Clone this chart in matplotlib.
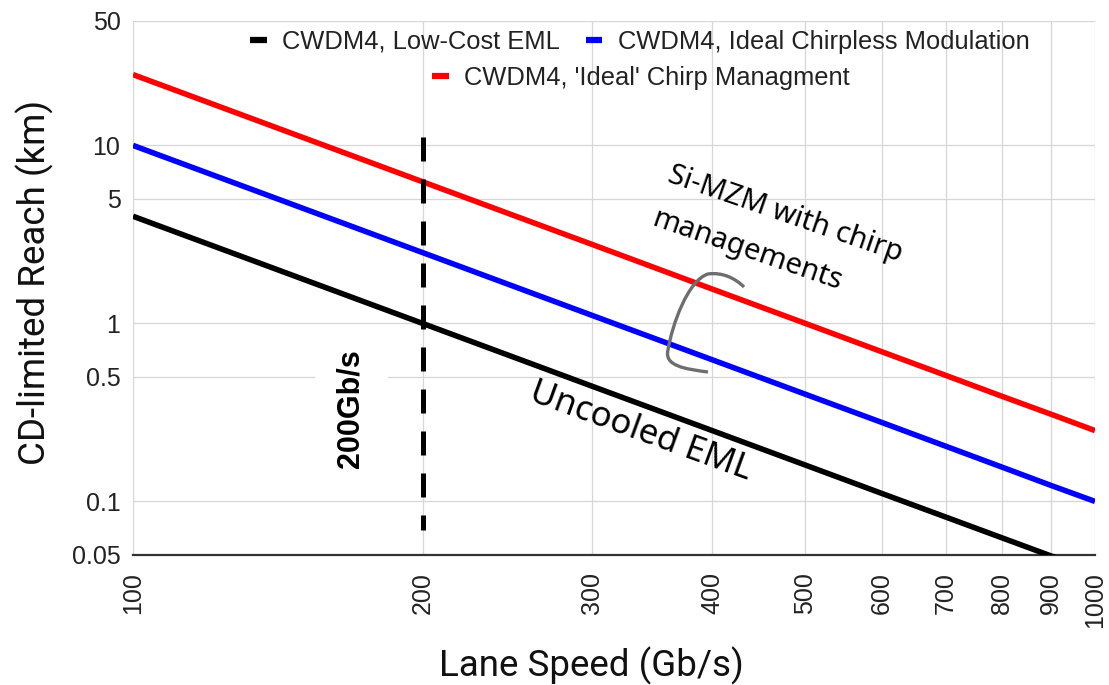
import matplotlib
matplotlib.use("Agg")
import matplotlib.pyplot as plt
from matplotlib.lines import Line2D
from matplotlib.patches import Rectangle, PathPatch
from matplotlib.path import Path
from matplotlib.ticker import FixedLocator, FixedFormatter, NullLocator

# lane speed (Gb/s) and CD-limited reach (km)
lane_speed = [100, 200, 300, 400, 500, 600, 700, 800, 900, 1000]
reach_low_cost_eml = [4.0, 1.0, 0.444, 0.25, 0.16, 0.111, 0.0816, 0.0625, 0.0494, 0.04]
reach_chirpless = [10.0, 2.5, 1.11, 0.625, 0.4, 0.278, 0.204, 0.156, 0.123, 0.1]
reach_chirp_mgmt = [25.0, 6.25, 2.78, 1.56, 1.0, 0.694, 0.51, 0.39, 0.309, 0.25]

# the 200Gb/s marker line
marker_speed = [200, 200]
marker_reach = [11.1, 0.069]

x_ticks = [100, 200, 300, 400, 500, 600, 700, 800, 900, 1000]
y_ticks = [0.05, 0.1, 0.5, 1, 5, 10, 50]
y_tick_labels = ["0.05", "0.1", "0.5", "1", "5", "10", "50"]

series_names = ["CWDM4, Low-Cost EML", "CWDM4, Ideal Chirpless Modulation",
                "CWDM4, 'Ideal' Chirp Managment"]
series_colors = ["#000000", "#0000ff", "#ff0000"]

W, H = 1109, 685
fig = plt.figure(figsize=(W / 100, H / 100), dpi=100)
ax = fig.add_axes([133 / W, 1 - 555 / H, 962 / W, 534 / H])

ax.set_xscale("log")
ax.set_yscale("log")
ax.set_xlim(100, 1000)
ax.set_ylim(0.05, 50)

ax.xaxis.set_major_locator(FixedLocator(x_ticks))
ax.xaxis.set_major_formatter(FixedFormatter([str(v) for v in x_ticks]))
ax.xaxis.set_minor_locator(NullLocator())
ax.yaxis.set_major_locator(FixedLocator(y_ticks))
ax.yaxis.set_major_formatter(FixedFormatter(y_tick_labels))
ax.yaxis.set_minor_locator(NullLocator())

tick_font = dict(family="Liberation Sans", size=18, color="#222222")
ax.tick_params(axis="both", length=0)
ax.tick_params(axis="y", pad=9)
ax.tick_params(axis="x", pad=12)
for lab in ax.get_yticklabels():
    lab.set(**tick_font)
for lab in ax.get_xticklabels():
    lab.set(**tick_font)
    lab.set_rotation(90)

ax.set_axisbelow(True)
ax.grid(True, color="#d6d6d6", linewidth=0.9, zorder=0)
for side in ["top", "left", "right"]:
    ax.spines[side].set_visible(False)
ax.spines["bottom"].set_color("#333333")
ax.spines["bottom"].set_linewidth(1.6)
ax.spines["bottom"].set_zorder(3)

# white patch behind the 200Gb/s label
ax.add_patch(Rectangle((0.189, 0.15), 0.076, 0.253, transform=ax.transAxes,
                       facecolor="white", edgecolor="none", zorder=1))

lw = 4.0
ax.plot(lane_speed, reach_low_cost_eml, color=series_colors[0], lw=lw, zorder=4,
        solid_capstyle="butt")
ax.plot(lane_speed, reach_chirpless, color=series_colors[1], lw=lw, zorder=4,
        solid_capstyle="butt")
ax.plot(lane_speed, reach_chirp_mgmt, color=series_colors[2], lw=lw, zorder=4,
        solid_capstyle="butt")
ax.plot(marker_speed, marker_reach, color="black", lw=3.6, dashes=(4.8, 3.6),
        dash_capstyle="butt", zorder=5)

ax.text(0.2256, 0.275, "200Gb/s", transform=ax.transAxes, rotation=90,
        ha="center", va="center", fontsize=22, fontweight="bold",
        family="Liberation Sans", zorder=6)

ax.text(0.528, 0.232, "Uncooled EML", transform=ax.transAxes, rotation=-20,
        rotation_mode="anchor", ha="center", va="center", fontsize=25,
        family="Noto Sans", zorder=6)
ax.text(0.6775, 0.637, "Si-MZM with chirp", transform=ax.transAxes,
        rotation=-19, rotation_mode="anchor", ha="center", va="center",
        fontsize=21, family="Noto Sans", zorder=6)
ax.text(0.639, 0.569, "managements", transform=ax.transAxes,
        rotation=-19, rotation_mode="anchor", ha="center", va="center",
        fontsize=21, family="Noto Sans", zorder=6)


def px(x, y):
    return ((x - 133) / 962, (555 - y) / 534)


verts = [px(744, 287), px(735, 278), px(722, 272), px(708, 274),
         px(688, 280), px(672, 325), px(668, 350),
         px(664, 366), px(685, 369), px(708, 372)]
codes = [Path.MOVETO] + [Path.CURVE4] * 9
ax.add_patch(PathPatch(Path(verts, codes), transform=ax.transAxes,
                       facecolor="none", edgecolor="#6e6e6e", lw=2.4,
                       zorder=6, clip_on=False))

axis_font = dict(family="Roboto", size=26.5, color="#111111")
ax.text(-0.102, 0.511, "CD-limited Reach (km)", transform=ax.transAxes,
        rotation=90, ha="center", va="center", **axis_font)
ax.text(0.477, -0.208, "Lane Speed (Gb/s)", transform=ax.transAxes,
        ha="center", va="center", **axis_font)

handles = [Line2D([], [], color=c, lw=4.5, solid_capstyle="butt") for c in series_colors]
leg_kw = dict(frameon=False, handlelength=0.65, handletextpad=0.6,
              columnspacing=1.0, borderpad=0, borderaxespad=0,
              prop=dict(family="Liberation Sans", size=18.4))
leg1 = fig.legend(handles[:2], series_names[:2], ncol=2, loc="center",
                  bbox_to_anchor=(640 / W, 1 - 42 / H), **leg_kw)
for t in leg1.get_texts():
    t.set_color("#222222")
leg2 = fig.legend(handles[2:], series_names[2:], ncol=1, loc="center",
                  bbox_to_anchor=(641 / W, 1 - 78 / H), **leg_kw)
for t in leg2.get_texts():
    t.set_color("#222222")

fig.savefig("out.png", dpi=100, facecolor="white")
